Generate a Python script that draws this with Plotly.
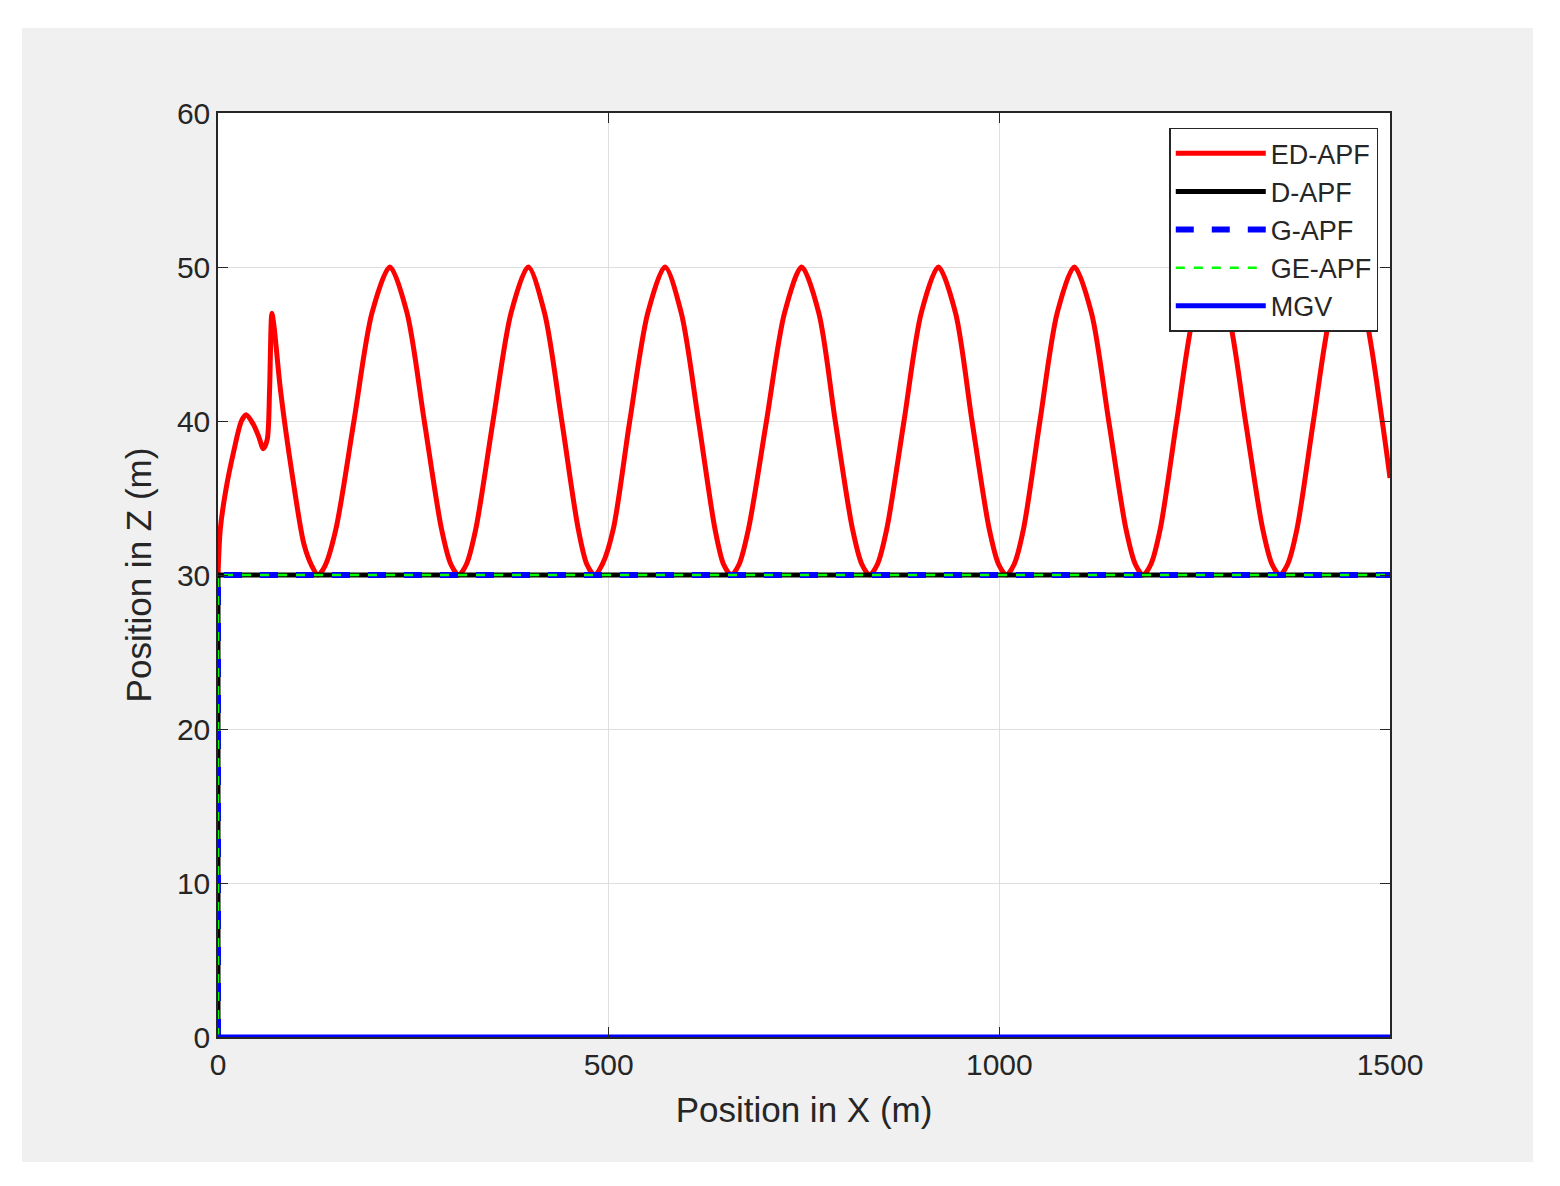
import plotly.graph_objects as go

# ED-APF path
ed_x = [0, 3, 10, 20, 30, 36, 45, 52, 58, 63, 66, 69, 72, 80, 95, 110, 120, 128, 137,
        151, 174, 197, 220, 242, 264, 286, 298, 308, 318,
        330, 352, 375, 397, 418, 440, 461, 472, 482, 492,
        506, 527, 550, 572, 593, 615, 636, 647, 657, 667,
        679, 702, 725, 747, 769, 790, 812, 824, 834, 844,
        856, 878, 900, 922, 944, 965, 987, 999, 1009, 1019,
        1031, 1052, 1074, 1096, 1118, 1140, 1162, 1174, 1184, 1194,
        1206, 1227, 1249, 1271, 1293, 1315, 1337, 1349, 1359, 1369,
        1381, 1402, 1424, 1446, 1468, 1490, 1500]
ed_z = [30, 33, 35.5, 38, 40, 40.4, 39.8, 39, 38.2, 38.8, 42, 47, 46, 42, 36.5, 32, 30.6, 30, 30.6,
        33, 40, 47, 50, 47, 40, 33, 30.7, 30, 30.7,
        33, 40, 47, 50, 47, 40, 33, 30.7, 30, 30.7,
        33, 40, 47, 50, 47, 40, 33, 30.7, 30, 30.7,
        33, 40, 47, 50, 47, 40, 33, 30.7, 30, 30.7,
        33, 40, 47, 50, 47, 40, 33, 30.7, 30, 30.7,
        33, 40, 47, 50, 47, 40, 33, 30.7, 30, 30.7,
        33, 40, 47, 50, 47, 40, 33, 30.7, 30, 30.7,
        33, 40, 47, 50, 47, 40, 36.3]

apf_x = [0, 0, 1500]
apf_z = [0, 30, 30]
mgv_x = [0, 1500]
mgv_z = [0, 0]

fig = go.Figure()
fig.add_trace(go.Scatter(x=ed_x, y=ed_z, mode="lines", name="ED-APF",
                         line=dict(color="red", width=5, shape="spline", smoothing=0.8)))
fig.add_trace(go.Scatter(x=apf_x, y=apf_z, mode="lines", name="D-APF",
                         line=dict(color="black", width=5)))
fig.add_trace(go.Scatter(x=apf_x, y=apf_z, mode="lines", name="G-APF",
                         line=dict(color="blue", width=6, dash="dash")))
fig.add_trace(go.Scatter(x=apf_x, y=apf_z, mode="lines", name="GE-APF",
                         line=dict(color="#00ff00", width=2.5, dash="dash")))
fig.add_trace(go.Scatter(x=mgv_x, y=mgv_z, mode="lines", name="MGV",
                         line=dict(color="blue", width=5)))

W, H = 1560, 1186
off = 8  # page offset seen in render
L, R, T, B = 218 - off, 1390 - off, 113 - off, 1037 - off
pw, ph = R - L, B - T

fig.add_shape(type="rect", xref="paper", yref="paper", layer="below",
              x0=(22 - off - L) / pw, x1=(1533 - off - L) / pw,
              y0=(B - (1162 - off)) / ph, y1=(B - (28 - off)) / ph,
              fillcolor="#f0f0f0", line=dict(width=0))
fig.add_shape(type="rect", xref="paper", yref="paper", layer="below",
              x0=0, x1=1, y0=0, y1=1, fillcolor="white", line=dict(width=0))

axis = dict(showline=True, linecolor="#262626", linewidth=1.5, mirror="ticks",
            ticks="inside", ticklen=10, tickcolor="#262626",
            showgrid=True, gridcolor="#dfdfdf", zeroline=False,
            tickfont=dict(size=30, color="#262626"))
fig.update_xaxes(range=[0, 1500], dtick=500, title=dict(text="Position in X (m)",
                 font=dict(size=35, color="#262626"), standoff=18), **axis)
fig.update_yaxes(range=[0, 60], dtick=10, title=dict(text="Position in Z (m)",
                 font=dict(size=35, color="#262626"), standoff=15), **axis)

fig.update_layout(
    width=W, height=H,
    margin=dict(l=L, r=W - R, t=T, b=H - B),
    paper_bgcolor="white", plot_bgcolor="white",
    font=dict(family="Arial, Liberation Sans, sans-serif", color="#262626"),
    showlegend=True,
    legend=dict(x=0.99, y=0.984, xanchor="right", yanchor="top",
                bgcolor="white", bordercolor="#262626", borderwidth=1.5,
                font=dict(size=27), itemwidth=90, tracegroupgap=0),
)

fig.write_html("out.html")
